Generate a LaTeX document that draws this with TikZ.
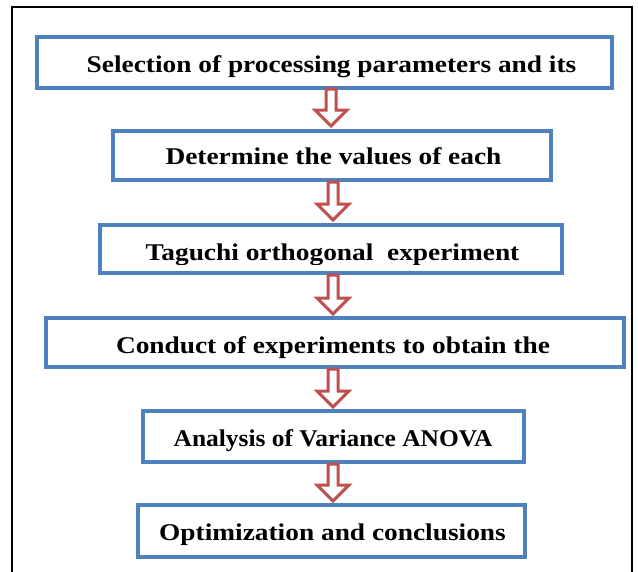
\documentclass[tikz,border=0pt]{standalone}
\usepackage{fontspec}
\setmainfont{Liberation Serif}
\usetikzlibrary{calc}
\definecolor{boxblue}{HTML}{4F81BD}
\definecolor{arrred}{HTML}{C0504D}
\tikzset{
  stepbox/.style={draw=boxblue, line width=4pt, fill=white, inner sep=0pt},
  steptext/.style={font=\bfseries\fontsize{24}{24}\selectfont, inner sep=0pt, anchor=base},
  flowarrow/.style={draw=arrred, line width=3pt, fill=white, line join=miter}
}
\newcommand{\stxt}[1]{\scalebox{1.14}[1]{#1}}
\newcommand{\blockarrow}[2]{%
  \path let \p1=(#1), \p2=(#2) in
    [flowarrow] (\x1-5,\y1) -- (\x1+5,\y1) -- (\x1+5,\y2+16) -- (\x1+16,\y2+16)
    -- (\x1,\y2) -- (\x1-16,\y2+16) -- (\x1-5,\y2+16) -- cycle;
}
\begin{document}
\begin{tikzpicture}[x=1pt,y=-1pt]
\useasboundingbox (0,0) rectangle (638,571);
% outer frame
\draw[line width=1.5pt] (12,575) -- (12,7) -- (632,7) -- (632,575);

% boxes
\path[stepbox] (37,37) rectangle (612,88);
\node (b1) at (324.5,62.5) {};
\path[stepbox] (113,131) rectangle (551,180);
\node (b2) at (332,155.5) {};
\path[stepbox] (100,225) rectangle (562,273);
\node (b3) at (331,249) {};
\path[stepbox] (46,318) rectangle (624,367);
\node (b4) at (335,342.5) {};
\path[stepbox] (143,411) rectangle (524,462);
\node (b5) at (333.5,436.5) {};
\path[stepbox] (138,505) rectangle (525,557);
\node (b6) at (331.5,531) {};

% texts (clipped like the original text frames)
\begin{scope}
  \clip (40,40) rectangle (609,77);
  \node[steptext] (t1) at (331.5,72) {\stxt{Selection of processing parameters and its}};
\end{scope}
\node[steptext] (t2) at (333.5,164) {\stxt{Determine the values of each}};
\begin{scope}
  \clip (103,228) rectangle (559,264);
  \node[steptext] (t3) at (332.5,260) {\stxt{Taguchi orthogonal\ \ experiment}};
\end{scope}
\begin{scope}
  \clip (49,321) rectangle (621,358);
  \node[steptext] (t4) at (333,353) {\stxt{Conduct of experiments to obtain the}};
\end{scope}
\begin{scope}
  \clip (146,414) rectangle (521,451);
  \node[steptext] (t5) at (333,446) {\scalebox{1.06}[1]{Analysis of Variance ANOVA}};
\end{scope}
\node[steptext] (t6) at (332.5,540) {\stxt{Optimization and conclusions}};

% arrows
\coordinate (a1t) at (331,89);  \coordinate (a1b) at (331,126);
\coordinate (a2t) at (333,182); \coordinate (a2b) at (333,220);
\coordinate (a3t) at (333,275); \coordinate (a3b) at (333,314);
\coordinate (a4t) at (333,369); \coordinate (a4b) at (333,407);
\coordinate (a5t) at (333,464); \coordinate (a5b) at (333,501);
\blockarrow{a1t}{a1b}
\blockarrow{a2t}{a2b}
\blockarrow{a3t}{a3b}
\blockarrow{a4t}{a4b}
\blockarrow{a5t}{a5b}
\end{tikzpicture}
\end{document}
